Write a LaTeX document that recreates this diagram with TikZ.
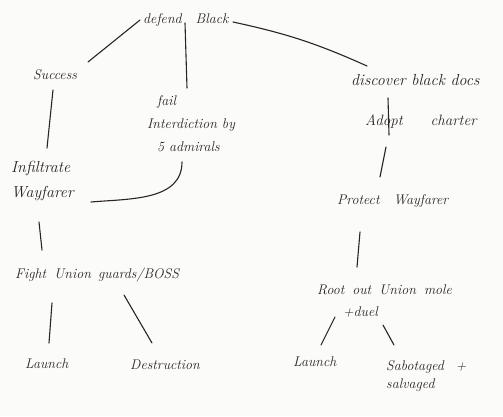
\documentclass[tikz,border=0pt]{standalone}
\usetikzlibrary{calc}
\definecolor{paper}{HTML}{FBFBF9}
\definecolor{ink}{HTML}{2B2420}
\begin{document}
\begin{tikzpicture}[x=1pt,y=-1pt,
  lbl/.style={inner sep=0pt, anchor=west, align=left, text=ink, font=\fontsize{14}{16}\selectfont\itshape},
  big/.style={font=\fontsize{16}{18}\selectfont\itshape},
  link/.style={draw=ink, line width=1.1pt, line cap=round}]
\fill[paper] (0,0) rectangle (503,416);
\useasboundingbox (0,0) rectangle (503,416);
% nodes (west anchor at left edge of text)
\node[lbl] (top) at (143,20) {defend\hspace{14pt}Black};
\node[lbl] (success) at (33,75) {Success};
\node[lbl, font=\fontsize{14}{23}\selectfont\itshape] (fail) at (147,124) {\hspace*{10pt}fail\\Interdiction by\\\hspace*{10pt}5 admirals};
\node[lbl, font=\fontsize{16}{25}\selectfont\itshape] (infil) at (11,181) {Infiltrate\\Wayfarer};
\node[lbl] (fight) at (15,275) {Fight\hspace{8pt}Union\ \,guards/BOSS};
\node[lbl] (launchL) at (25,364) {Launch};
\node[lbl] (destr) at (130,365) {Destruction};
\node[lbl, big] (discover) at (351,80) {discover black docs};
\node[lbl, font=\fontsize{15}{17}\selectfont\itshape] (adopt) at (365,122) {Adopt\hspace{28pt}charter};
\node[lbl] (protect) at (337,201) {Protect\hspace{14pt}Wayfarer};
\node[lbl, font=\fontsize{14}{22}\selectfont\itshape] (root) at (317,301) {Root\hspace{8pt}out\hspace{8pt}Union\hspace{8pt}mole\\\hspace*{26pt}+duel};
\node[lbl] (launchR) at (293,362) {Launch};
\node[lbl, font=\fontsize{14}{18}\selectfont\itshape] (sabot) at (386,376) {Sabotaged\hspace{12pt}+\\salvaged};
% connectors
\draw[link] ($(top.west)+(-3,0)$) -- ($(success.west)+(55,-13)$);
\draw[link] ($(top.west)+(42,3)$) -- ($(fail.west)+(40,-36)$);
\draw[link] ($(top.west)+(90,2)$) to[bend left=6] ($(discover.west)+(16,-14)$);
\draw[link] ($(success.west)+(20,15)$) -- ($(infil.west)+(36,-33)$);
\draw[link] ($(fail.west)+(35,38)$) to[out=-90,in=5] ($(infil.west)+(80,21)$);
\draw[link] ($(infil.west)+(28,41)$) -- ($(fight.west)+(27,-25)$);
\draw[link] ($(fight.west)+(37,28)$) -- ($(launchL.west)+(24,-21)$);
\draw[link] ($(fight.west)+(109,20)$) -- ($(destr.west)+(22,-22)$);
\draw[link] ($(discover.west)+(37,18)$) -- ($(adopt.west)+(24,13)$);
\draw[link] ($(adopt.west)+(21,25)$) -- ($(protect.west)+(43,-24)$);
\draw[link] ($(protect.west)+(23,31)$) -- ($(root.west)+(40,-34)$);
\draw[link] ($(root.west)+(18,16)$) -- ($(launchR.west)+(28,-17)$);
\draw[link] ($(root.west)+(66,24)$) -- ($(sabot.west)+(8,-31)$);
\end{tikzpicture}
\end{document}
